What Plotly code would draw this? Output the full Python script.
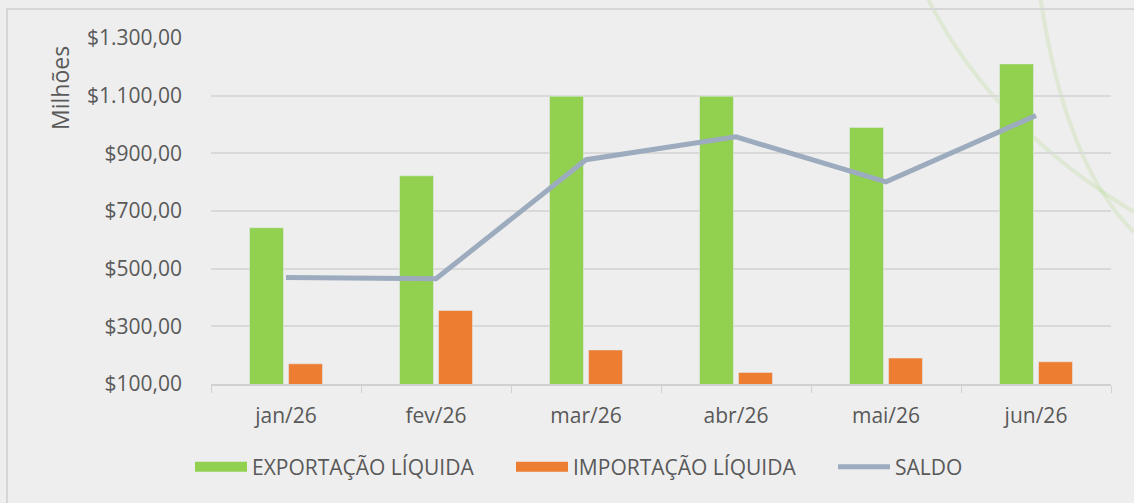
import plotly.graph_objects as go

months = ["jan/26", "fev/26", "mar/26", "abr/26", "mai/26", "jun/26"]
exportacao = [642, 822, 1098, 1098, 990, 1210]
importacao = [170, 355, 218, 140, 190, 177]
saldo = [469, 465, 878, 957, 801, 1031]
y_ticks = [100, 300, 500, 700, 900, 1100, 1300]
y_tick_labels = ["$100,00", "$300,00", "$500,00", "$700,00", "$900,00", "$1.100,00", "$1.300,00"]

GREEN = "#92D050"
ORANGE = "#ED7D31"
GREY_LINE = "#9DABBE"
TXT = "#595959"
FONT = "Open Sans"
FS = 21

fig = go.Figure()
fig.add_trace(go.Bar(x=months, y=exportacao, marker_color=GREEN, name="EXPORTAÇÃO LÍQUIDA",
                     showlegend=False, legendgroup="exp", base=0))
fig.add_trace(go.Bar(x=months, y=importacao, marker_color=ORANGE, name="IMPORTAÇÃO LÍQUIDA",
                     showlegend=False, legendgroup="imp", base=0))
fig.add_trace(go.Scatter(x=months, y=saldo, mode="lines", name="SALDO",
                         line=dict(color=GREY_LINE, width=5), showlegend=False, legendgroup="sal"))
# legend entries (wide swatches), one legend per entry for Excel-like spacing
fig.add_trace(go.Scatter(x=[None], y=[None], mode="lines", name="EXPORTAÇÃO LÍQUIDA",
                         line=dict(color=GREEN, width=14), legendgroup="exp", legend="legend"))
fig.add_trace(go.Scatter(x=[None], y=[None], mode="lines", name="IMPORTAÇÃO LÍQUIDA",
                         line=dict(color=ORANGE, width=14), legendgroup="imp", legend="legend2"))
fig.add_trace(go.Scatter(x=[None], y=[None], mode="lines", name="SALDO",
                         line=dict(color=GREY_LINE, width=5), legendgroup="sal", legend="legend3"))

L, R, T, B = 211, 23, 38, 119
W, H = 1134, 503
pw, ph = W - L - R, H - T - B

def px(x):
    return (x - L) / pw

def py(y):
    return (H - B - y) / ph

def path(points):
    s = "M %f,%f" % (px(points[0][0]), py(points[0][1]))
    for i in range(1, len(points) - 1, 2):
        a, b = points[i], points[i + 1]
        s += " Q %f,%f %f,%f" % (px(a[0]), py(a[1]), px(b[0]), py(b[1]))
    return s

shapes = [
    dict(type="path", xref="paper", yref="paper", layer="below",
         path=path([(926, -5), (990, 125), (1134, 212)]),
         line=dict(color="rgba(146,208,80,0.16)", width=4)),
    dict(type="path", xref="paper", yref="paper", layer="below",
         path=path([(1040, -5), (1065, 165), (1134, 232)]),
         line=dict(color="rgba(146,208,80,0.16)", width=4)),
    dict(type="rect", xref="paper", yref="paper", layer="below",
         x0=px(7), x1=px(1200), y0=py(9), y1=py(600),
         line=dict(color="#D6D6D6", width=2), fillcolor="rgba(0,0,0,0)"),
]

def leg(xpix):
    return dict(orientation="h", xref="container", yref="container",
                x=xpix / W, xanchor="left", y=1 - 467 / H, yanchor="middle",
                font=dict(size=FS, color=TXT), bgcolor="rgba(0,0,0,0)",
                itemwidth=52)

fig.update_layout(
    width=W, height=H,
    margin=dict(l=L, r=R, t=T, b=B, pad=0),
    paper_bgcolor="#EEEEEE",
    plot_bgcolor="rgba(0,0,0,0)",
    font=dict(family=FONT, color=TXT, size=FS),
    barmode="group",
    bargap=0.48,
    bargroupgap=0.13,
    shapes=shapes,
    legend=leg(190),
    legend2=leg(511),
    legend3=leg(833),
    annotations=[dict(text="Milhões", xref="paper", yref="paper", x=px(60), y=py(88),
                      showarrow=False, textangle=-90, font=dict(size=23, color=TXT),
                      xanchor="center", yanchor="middle")],
)
fig.update_xaxes(
    type="category", tickson="boundaries", ticks="outside", ticklen=7, tickcolor="#D0D0D0",
    showline=True, linecolor="#D0D0D0", linewidth=1.5, showgrid=False,
    tickfont=dict(size=FS, color=TXT), fixedrange=True, ticklabelstandoff=12,
)
fig.update_yaxes(
    range=[100, 1300], tickvals=y_ticks, ticktext=y_tick_labels,
    showgrid=True, gridcolor="#D9D9D9", gridwidth=1.5, zeroline=False,
    showline=False, ticks="", ticklabelstandoff=28,
    tickfont=dict(size=FS, color=TXT),
)

fig.write_html("out.html", config={"displayModeBar": False},
               post_script="document.body.style.margin='0px';")
